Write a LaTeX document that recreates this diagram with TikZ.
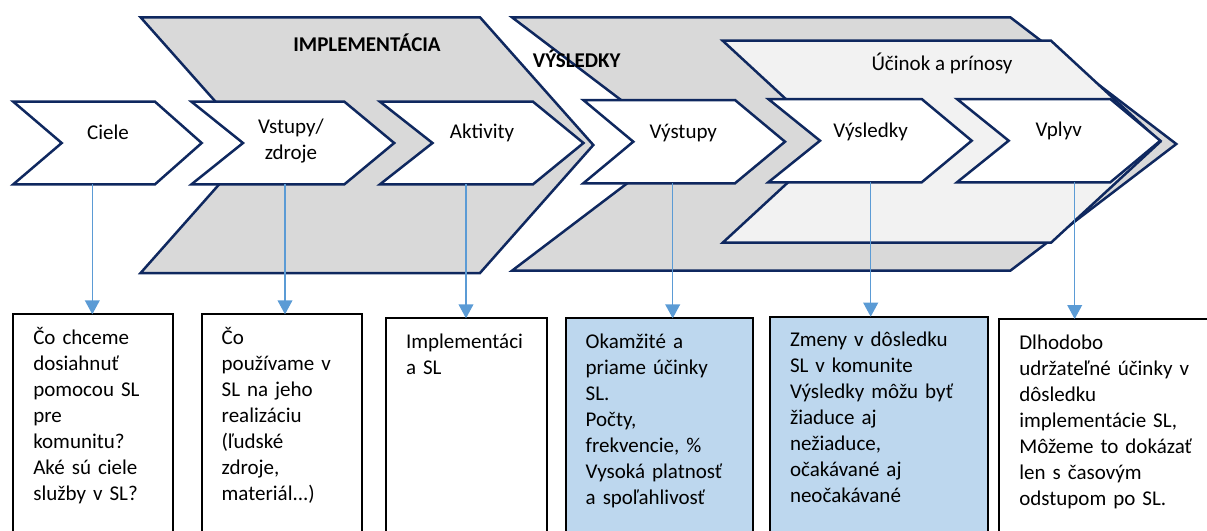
\documentclass[tikz,border=0pt]{standalone}
\usepackage{fontspec}
\setmainfont{Carlito}
\usepackage{tikz}
\usetikzlibrary{arrows.meta}
\definecolor{navy}{RGB}{15,40,95}
\definecolor{shade}{HTML}{D9D9D9}
\definecolor{light}{HTML}{F2F2F2}
\definecolor{paleblue}{HTML}{BDD7EE}
\definecolor{linkblue}{HTML}{5B9BD5}
\hyphenpenalty=10000

\begin{document}
\begin{tikzpicture}[x=0.5pt,y=-0.5pt,
  chev line/.style={draw=navy,line width=1.25pt,fill=white},
  big line/.style={chev line,fill=shade},
  label node/.style={font=\fontsize{10.5}{13}\selectfont,inner sep=0pt,anchor=base},
  box node/.style={draw=black,line width=1pt,anchor=north west,outer sep=0pt,align=left,
    inner xsep=10pt,inner ysep=6pt,text height=9pt,text depth=120pt,font=\fontsize{10.5}{13}\selectfont},
  link/.style={draw=linkblue,line width=0.7pt,-{Triangle[length=7pt,width=7.4pt]}}]

  \useasboundingbox (0,0) rectangle (1207,531);

  % large background arrows
  \draw[big line] (140.6,17.3) -- (480,17.3) -- (593.3,145) -- (480,273) -- (140.6,273) -- (254,145) -- cycle;
  \draw[big line] (512,17.3) -- (1010.3,17.3) -- (1176.3,144) -- (1010.3,270.7) -- (512,270.7) -- (679,144) -- cycle;
  \draw[big line,fill=light] (722.7,40.7) -- (1051,40.7) -- (1160.3,141.7) -- (1051,242.7) -- (722.7,242.7) -- (832,141.7) -- cycle;

  % small arrows
  \draw[chev line] (13.3,101.7) -- (155,101.7) -- (201.7,143) -- (155,184.3) -- (13.3,184.3) -- (61.7,143) -- cycle;
  \draw[chev line] (191.5,101.7) -- (344.4,101.7) -- (394.2,143) -- (344.4,184.3) -- (191.5,184.3) -- (243,143) -- cycle;
  \draw[chev line] (380,101.7) -- (533,101.7) -- (583.5,143) -- (533,184.3) -- (380,184.3) -- (432.5,143) -- cycle;
  \draw[chev line] (583.3,100) -- (735,100) -- (785,141.7) -- (735,183.3) -- (583.3,183.3) -- (633.3,141.7) -- cycle;
  \draw[chev line] (768.3,99) -- (921.7,99) -- (971.7,140.7) -- (921.7,182.3) -- (768.3,182.3) -- (820,140.7) -- cycle;
  \draw[chev line] (957,99) -- (1110.3,99) -- (1160.3,140.7) -- (1110.3,182.3) -- (957,182.3) -- (1008.7,140.7) -- cycle;

  \node[label node,font=\fontsize{10.5}{13}\selectfont\bfseries] (impl) at (367,51.7) {IMPLEMENTÁCIA};
  \node[label node,font=\fontsize{10.5}{13}\selectfont\bfseries] (results) at (576.7,67.7) {VÝSLEDKY};
  \node[label node] (effect) at (942,70.7) {Účinok a prínosy};
  \node[label node] (ciele) at (108,139.3) {Ciele};
  \node[label node,align=center] (vstupy) at (291,159.3) {Vstupy/\\zdroje};
  \node[label node] (aktivity) at (482,138.3) {Aktivity};
  \node[label node] (vystupy) at (683.3,138.3) {Výstupy};
  \node[label node] (vysledky) at (870.7,137.3) {Výsledky};
  \node[label node] (vplyv) at (1058.7,136.7) {Vplyv};

  \coordinate (cieleB) at (92.3,184.3);
  \coordinate (vstupyB) at (285,184.3);
  \coordinate (aktivityB) at (466,184.3);
  \coordinate (vystupyB) at (672.7,183.3);
  \coordinate (vysledkyB) at (870.7,182.3);
  \coordinate (vplyvB) at (1074.7,182.3);

  % description boxes
  \node[box node,text width=60pt] (goal) at (13.3,314.3)
    {Čo chceme\\dosiahnuť\\pomocou SL\\pre\\komunitu?\\Aké sú ciele\\služby v SL?};
  \node[box node,text width=60.3pt] (inputs) at (201.7,314.3)
    {Čo\\používame v\\SL na jeho\\realizáciu\\(ľudské\\zdroje,\\materiál...)};
  \node[box node,text width=60.4pt] (activities) at (386,318.3)
    {Implementáci\\a SL};
  \node[box node,text width=73.5pt,fill=paleblue] (outputs) at (565.7,318.3)
    {Okamžité a\\priame účinky\\SL.\\Počty,\\frekvencie, \%\\Vysoká platnosť\\a spoľahlivosť};
  \node[box node,text width=89.2pt,fill=paleblue] (outcomes) at (770,316.7)
    {Zmeny v dôsledku\\SL v komunite\\Výsledky môžu byť\\žiaduce aj\\nežiaduce,\\očakávané aj\\neočakávané};
  \node[box node,text width=95pt] (impact) at (999.3,319)
    {Dlhodobo\\udržateľné účinky v\\dôsledku\\implementácie SL,\\Môžeme to dokázať\\len s časovým\\odstupom po SL.};

  \draw[link] (cieleB) -- (cieleB |- goal.north);
  \draw[link] (vstupyB) -- (vstupyB |- inputs.north);
  \draw[link] (aktivityB) -- (aktivityB |- activities.north);
  \draw[link] (vystupyB) -- (vystupyB |- outputs.north);
  \draw[link] (vysledkyB) -- (vysledkyB |- outcomes.north);
  \draw[link] (vplyvB) -- (vplyvB |- impact.north);
\end{tikzpicture}
\end{document}
